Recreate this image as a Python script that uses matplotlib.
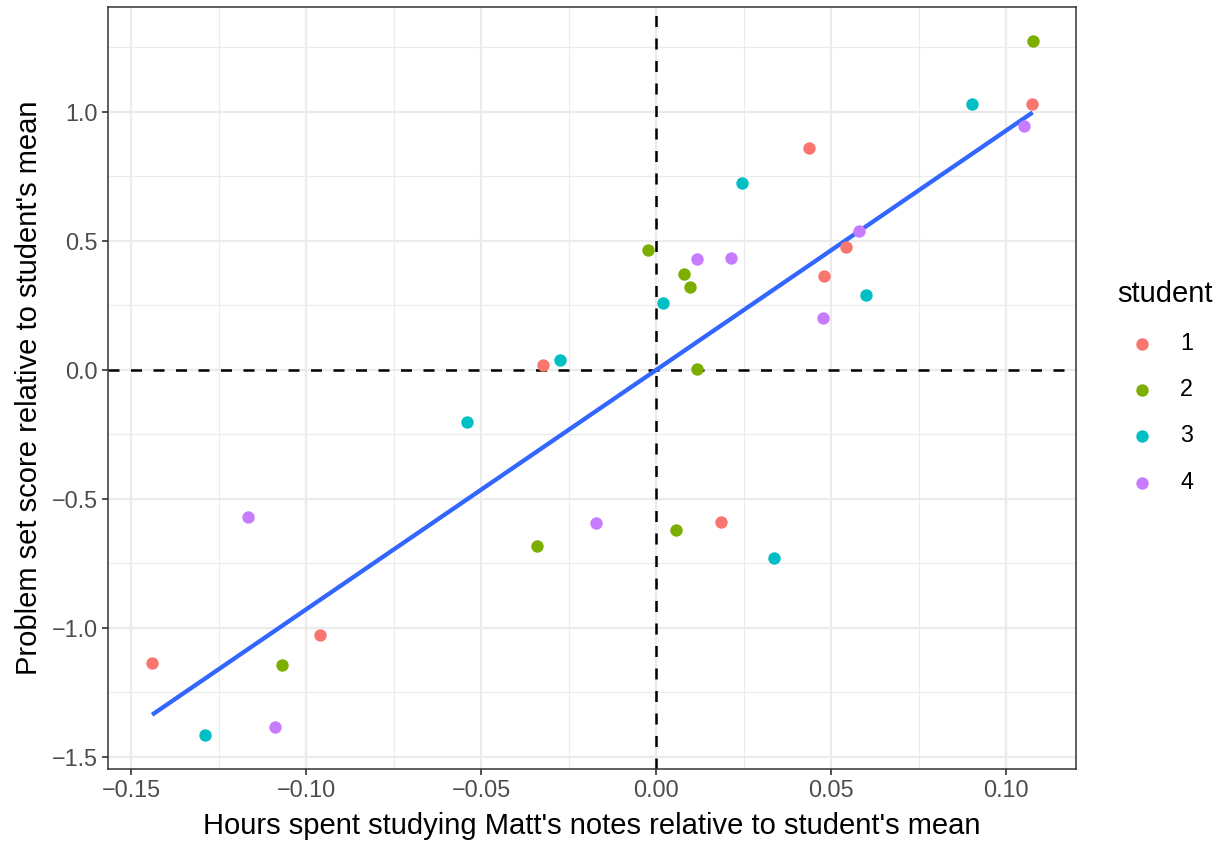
import numpy as np
import matplotlib.pyplot as plt
from matplotlib.ticker import MultipleLocator, FixedLocator

plt.rcParams['font.family'] = ['Liberation Sans', 'DejaVu Sans']

# Punkty, po jednej liście na studenta
students = ["1", "2", "3", "4"]
colors = ["#F8766D", "#7CAE00", "#00BFC4", "#C77CFF"]

hours_1 = [-0.144, -0.096, -0.0323, 0.0186, 0.0437, 0.048, 0.0543, 0.1074]
score_1 = [-1.136, -1.027, 0.019, -0.590, 0.860, 0.364, 0.477, 1.031]

hours_2 = [-0.107, -0.034, -0.0023, 0.008, 0.0097, 0.0117, 0.0058, 0.1076]
score_2 = [-1.142, -0.681, 0.465, 0.373, 0.321, 0.005, -0.619, 1.275]

hours_3 = [-0.129, -0.0541, -0.0274, 0.0021, 0.0247, 0.0337, 0.0599, 0.0904]
score_3 = [-1.417, -0.203, 0.039, 0.261, 0.726, -0.730, 0.291, 1.030]

hours_4 = [-0.1167, -0.109, -0.0171, 0.0116, 0.0213, 0.0478, 0.0580, 0.1050]
score_4 = [-0.571, -1.383, -0.595, 0.429, 0.433, 0.203, 0.538, 0.946]

hours = [hours_1, hours_2, hours_3, hours_4]
scores = [score_1, score_2, score_3, score_4]


def main():
    fig = plt.figure(figsize=(12.25, 8.43), dpi=100)
    ax = fig.add_axes([108 / 1225, 1 - 769 / 843, (1076 - 108) / 1225, (769 - 7) / 843])

    ax.set_xlim(-0.1566, 0.12)
    ax.set_ylim(-1.547, 1.407)

    # Siatka w stylu theme_bw
    ax.xaxis.set_major_locator(FixedLocator([-0.15, -0.10, -0.05, 0.0, 0.05, 0.10]))
    ax.xaxis.set_minor_locator(MultipleLocator(0.025))
    ax.yaxis.set_major_locator(FixedLocator([-1.5, -1.0, -0.5, 0.0, 0.5, 1.0]))
    ax.yaxis.set_minor_locator(MultipleLocator(0.25))
    ax.grid(which="major", color="#EBEBEB", linewidth=1.6, zorder=0)
    ax.grid(which="minor", color="#EBEBEB", linewidth=0.8, zorder=0)
    ax.set_axisbelow(True)
    ax.tick_params(which="minor", length=0)
    ax.tick_params(which="major", length=4.3, width=1.2, color="#333333",
                   labelsize=16.8, labelcolor="#4D4D4D", pad=3)
    ax.set_xticklabels(["\u22120.15", "\u22120.10", "\u22120.05", "0.00", "0.05", "0.10"])
    ax.set_yticklabels(["\u22121.5", "\u22121.0", "\u22120.5", "0.0", "0.5", "1.0"])
    for s in ax.spines.values():
        s.set_color("#333333")
        s.set_linewidth(1.1)

    ax.axhline(0, color="black", linewidth=1.8, dashes=(4.4, 4.6), zorder=2)
    ax.axvline(0, color="black", linewidth=1.8, dashes=(4.4, 4.6), zorder=2)

    # Prosta regresji na wszystkich punktach
    all_x = np.concatenate([np.array(h) for h in hours])
    all_y = np.concatenate([np.array(s) for s in scores])
    slope, intercept = np.polyfit(all_x, all_y, 1)
    xs = np.array([all_x.min(), all_x.max()])
    ax.plot(xs, slope * xs + intercept, color="#3366FF", linewidth=3.1,
            solid_capstyle="butt", zorder=3)

    handles = []
    for i in range(len(students)):
        h = ax.scatter(hours[i], scores[i], s=80, color=colors[i], linewidths=0,
                       zorder=4, label=students[i])
        handles.append(h)

    ax.set_xlabel("Hours spent studying Matt's notes relative to student's mean",
                  fontsize=21, labelpad=7)
    ax.set_ylabel("Problem set score relative to student's mean", fontsize=21, labelpad=6)

    leg = fig.legend(handles=handles, title="student", loc="upper left",
                     bbox_to_anchor=(1108 / 1225, 1 - 271 / 843), frameon=False,
                     fontsize=16.8, title_fontsize=21, labelspacing=1.0,
                     handletextpad=0.6, handlelength=2.1, borderaxespad=0,
                     alignment="left")

    fig.savefig("out.png", dpi=100)


if __name__ == "__main__":
    main()
